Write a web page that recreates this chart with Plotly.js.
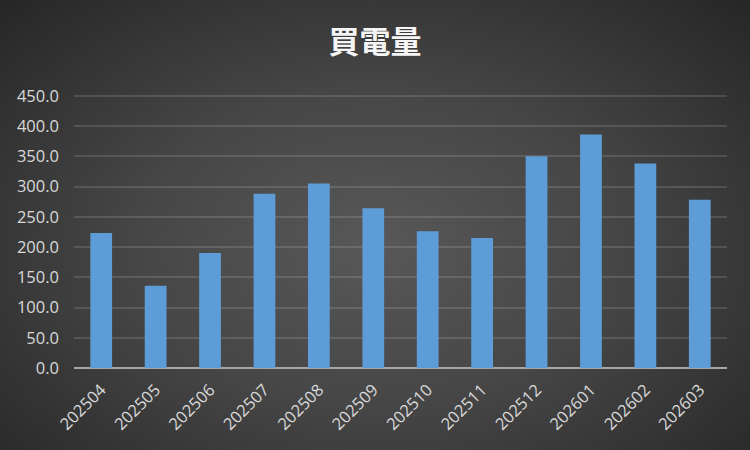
<!DOCTYPE html>
<html>
<head>
<meta charset="utf-8">
<script src="https://cdn.plot.ly/plotly-3.0.1.min.js"></script>
<style>
  html, body { margin: 0; padding: 0; }
  #chart {
    width: 750px; height: 450px;
    background: radial-gradient(ellipse at 50% 55%, #585858 0%, #464646 45%, #262626 100%);
  }
</style>
</head>
<body>
<div id="chart"></div>
<script>
const months = ['202504', '202505', '202506', '202507', '202508', '202509',
                '202510', '202511', '202512', '202601', '202602', '202603'];
const purchased = [223, 136, 190, 288, 305, 264, 226, 215, 350, 386, 338, 278];
const yTicks = [0, 50, 100, 150, 200, 250, 300, 350, 400, 450];

const trace = {
  x: months,
  y: purchased,
  type: 'bar',
  marker: {
    color: '#5e9cd8',
    line: {width: 0}
  },
  hoverinfo: 'none'
};

const tickFont = {family: '"Open Sans", "Liberation Sans", sans-serif', size: 16.5, color: '#d9d9d9'};

const layout = {
  width: 750,
  height: 450,
  paper_bgcolor: 'rgba(0,0,0,0)',
  plot_bgcolor: 'rgba(0,0,0,0)',
  margin: {l: 74, r: 23, t: 94, b: 82},
  title: {
    text: '<b>買電量</b>',
    x: 0.5,
    y: 0.93,
    yanchor: 'top',
    font: {family: '"Noto Sans CJK JP", sans-serif', size: 31, color: '#f5f5f5'}
  },
  bargap: 0.6,
  showlegend: false,
  xaxis: {
    type: 'category',
    tickangle: -45,
    tickfont: tickFont,
    showgrid: false,
    showline: false,
    ticks: '',
    zeroline: false,
    ticklabelstandoff: 8
  },
  yaxis: {
    range: [0, 453],
    tickvals: yTicks,
    tickformat: '.1f',
    tickfont: tickFont,
    gridcolor: 'rgba(255,255,255,0.13)',
    gridwidth: 2,
    zeroline: true,
    zerolinecolor: '#a6a6a6',
    zerolinewidth: 2,
    ticks: '',
    ticklabelstandoff: 14
  }
};

Plotly.newPlot('chart', [trace], layout, {staticPlot: true});
</script>
</body>
</html>
